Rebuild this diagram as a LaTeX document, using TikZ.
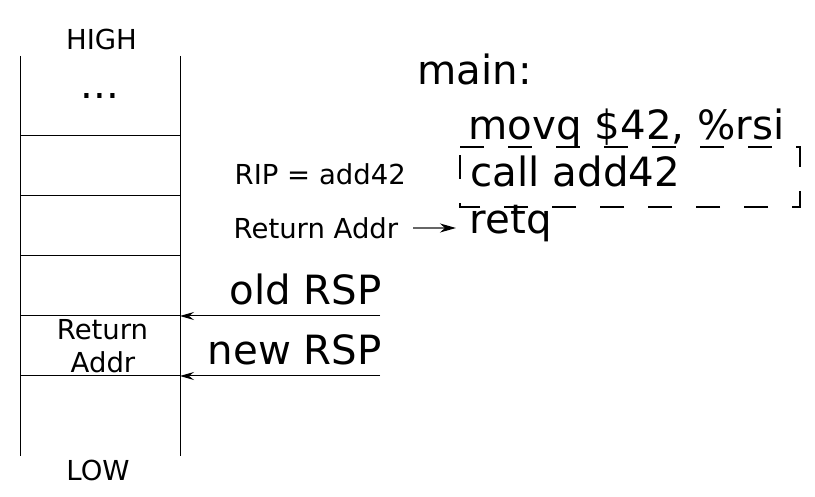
\documentclass[tikz,border=0pt]{standalone}
\usepackage{fontspec}
\setmainfont{DejaVu Sans}
\usetikzlibrary{arrows.meta}
\tikzset{
  small/.style={font=\fontsize{27.5}{30}\selectfont, inner sep=0pt},
  big/.style={font=\fontsize{40.3}{44}\selectfont, inner sep=0pt},
  stackline/.style={line width=1pt, black},
  rsparrow/.style={line width=1pt, black, -{Stealth[length=14pt,width=8pt,inset=5pt]}},
  retarrow/.style={line width=1.2pt, black!60, -{Stealth[black,length=16pt,width=9pt,inset=5pt]}},
  dashbox/.style={line width=1.8pt, black, dash pattern=on 24pt off 24pt}
}
\begin{document}
\begin{tikzpicture}[x=1pt,y=-1pt]
\useasboundingbox (0,0) rectangle (815,497);
% stack
\coordinate (tl) at (20,56);
\coordinate (bl) at (20,456);
\coordinate (tr) at (180,56);
\coordinate (br) at (180,456);
\draw[stackline] (tl) -- (bl);
\draw[stackline] (tr) -- (br);
\foreach \yy/\nm in {136/a,196/b,256/c,316/d,376/e}{
  \coordinate (L\nm) at (20,\yy);
  \coordinate (R\nm) at (180,\yy);
  \draw[stackline] (L\nm) -- (R\nm);
}
\node[small, anchor=base] (high) at (101.5,50) {HIGH};
\node[big, anchor=base] (dots) at (100,99) {...};
\node[small, anchor=base] (ret1) at (102.5,340) {Return};
\node[small, anchor=base] (ret2) at (103,373) {Addr};
\node[small, anchor=base] (low) at (98,480) {LOW};
% labels
\node[small, anchor=base west] (rip) at (234.5,185) {RIP = add42};
\node[small, anchor=base west] (raddr) at (233.5,239) {Return Addr};
\node[big, anchor=base east] (oldrsp) at (382,305) {old RSP};
\node[big, anchor=base east] (newrsp) at (382,365) {new RSP};
% code
\node[big, anchor=base west] (main) at (417.5,85) {main:};
\node[big, anchor=base west] (movq) at (468.5,140) {movq \$42, \%rsi};
\node[big, anchor=base west] (call) at (470.5,187) {call add42};
\node[big, anchor=base west] (retq) at (469.5,234) {retq};
% dashed box
\coordinate (b1) at (460,147);
\coordinate (b2) at (800,147);
\coordinate (b3) at (800,207);
\coordinate (b4) at (460,207);
\draw[dashbox] (b1) -- (b2) -- (b3) -- (b4) -- cycle;
% arrows
\coordinate (oldstart) at (380,316);
\coordinate (newstart) at (380,376);
\draw[rsparrow] (oldstart) -- (Rd);
\draw[rsparrow] (newstart) -- (Re);
\coordinate (rs) at (413,228);
\coordinate (re) at (456,228);
\draw[retarrow] (rs) -- (re);
\end{tikzpicture}
\end{document}
